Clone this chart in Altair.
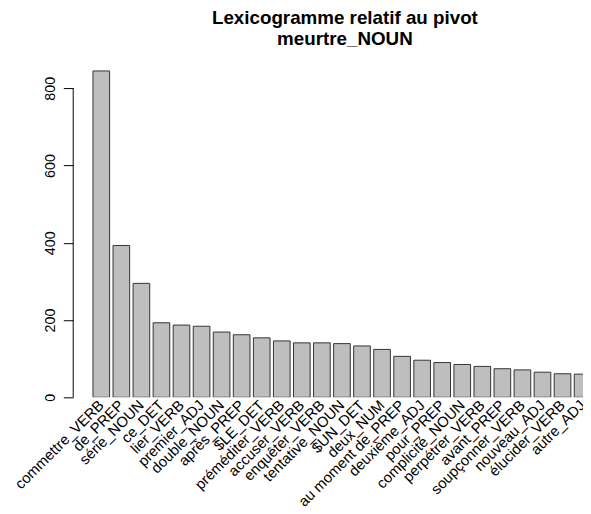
import altair as alt
import pandas as pd

categories = ["commettre_VERB", "de_PREP", "série_NOUN", "ce_DET", "lier_VERB",
              "premier_ADJ", "double_NOUN", "après_PREP", "$LE_DET", "préméditer_VERB",
              "accuser_VERB", "enquêter_VERB", "tentative_NOUN", "$UN_DET", "deux_NUM",
              "au moment de_PREP", "deuxième_ADJ", "pour_PREP", "complicité_NOUN",
              "perpétrer_VERB", "avant_PREP", "soupçonner_VERB", "nouveau_ADJ",
              "élucider_VERB", "autre_ADJ"]
values = [845, 393, 295, 193, 187, 184, 169, 162, 154, 146, 141, 141, 139, 133, 124,
          106, 96, 90, 85, 80, 74, 71, 65, 61, 60]
y_ticks = [0, 200, 400, 600, 800]

df = pd.DataFrame({"cat": categories, "val": values})
FONT = "Liberation Sans"

bars = alt.Chart(df).mark_bar(
    clip=True, fill="#BEBEBE", stroke="#333333", strokeWidth=1
).encode(
    x=alt.X("cat:N", sort=categories,
            scale=alt.Scale(range=[0, 524], paddingInner=0.17, paddingOuter=0.4926),
            axis=alt.Axis(title=None, labelAngle=-45, labelAlign="right",
                          labelBaseline="middle", ticks=False, domain=False,
                          labelPadding=5, labelFontSize=15, labelFont=FONT,
                          labelColor="black", labelOverlap=False, labelLimit=0)),
    y=alt.Y("val:Q",
            scale=alt.Scale(domain=[0, 880], nice=False, zero=True),
            axis=alt.Axis(title=None, values=y_ticks, domain=False, offset=10,
                          tickSize=10, tickColor="black", tickWidth=1, grid=False,
                          labelAngle=-90, labelAlign="center",
                          labelBaseline="alphabetic", labelPadding=9,
                          labelFontSize=14.5, labelFont=FONT, labelColor="black")),
)

axis_line = alt.Chart(pd.DataFrame({"a": [0]})).mark_rule(
    color="black", strokeWidth=1
).encode(
    x=alt.value(-10),
    y=alt.datum(y_ticks[0]),
    y2=alt.datum(y_ticks[-1]),
)

chart = alt.layer(bars, axis_line).properties(
    width=506,
    height=344,
    autosize=alt.AutoSizeParams(type="none"),
    padding={"left": 76, "top": 47, "right": 0, "bottom": 109},
    title=alt.Title(["Lexicogramme relatif au pivot", "meurtre_NOUN"],
                    fontSize=19, fontWeight="bold", font=FONT, color="black",
                    anchor="middle", dx=12, dy=20, offset=14, baseline="alphabetic",
                    lineHeight=20.5, frame="group"),
).configure_view(stroke=None)

chart.save("out.html", embed_options={"renderer": "svg", "actions": False})
